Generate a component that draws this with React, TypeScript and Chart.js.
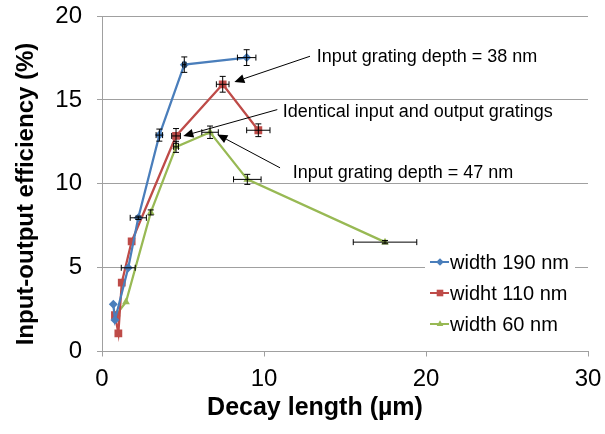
import React, { useEffect, useRef } from 'react';
import { Chart, registerables } from 'chart.js';

Chart.register(...registerables);

// ---- data ----
const seriesNames = ['width 190 nm', 'widht 110 nm', 'width 60 nm'];
const seriesColors = ['#4A7EBB', '#BE4B48', '#98B954'];

const x190 = [0.7, 0.8, 1.62, 2.24, 3.54, 5.08, 8.93];
const y190 = [2.81, 1.88, 4.99, 7.97, 12.9, 17.1, 17.52];
const xErr190 = [0, 0, 0.43, 0.5, 0.2, 0.1, 0.57];
const yErr190 = [0, 0, 0, 0.1, 0.36, 0.46, 0.47];

const x110 = [0.8, 1.01, 1.22, 1.83, 4.57, 7.45, 9.65];
const y110 = [2.17, 1.08, 4.1, 6.56, 12.85, 15.93, 13.19];
const xErr110 = [0, 0, 0, 0, 0.27, 0.39, 0.72];
const yErr110 = [0, 0, 0, 0, 0.44, 0.47, 0.38];

const x60 = [0.91, 1.48, 3.01, 4.57, 6.67, 8.97, 17.47];
const y60 = [2.23, 2.95, 8.29, 12.2, 13.07, 10.26, 6.52];
const xErr60 = [0, 0, 0, 0.15, 0.51, 0.85, 1.96];
const yErr60 = [0, 0, 0.15, 0.33, 0.37, 0.3, 0.1];

const xTicks = [0, 10, 20, 30];
const yTicks = [0, 5, 10, 15, 20];

const xTitle = 'Decay length (µm)';
const yTitle = 'Input-output efficiency (%)';

// callouts: text anchor (left/baseline) and arrow, in data units
const noteTexts = [
  'Input grating depth = 38 nm',
  'Identical input and output gratings',
  'Input grating depth = 47 nm',
];
const noteTextX = [13.25, 11.15, 11.77];
const noteTextY = [17.26, 13.98, 10.35];
const arrowFromX = [12.84, 10.82, 10.99];
const arrowFromY = [17.6, 14.42, 10.95];
const arrowToX = [8.17, 5.02, 7.12];
const arrowToY = [16.07, 12.85, 12.94];

const FONT = "'Liberation Sans', Arial, Helvetica, sans-serif";
const GRID = '#a0a0a0';

const toPoints = (xs: number[], ys: number[]) => xs.map((x, i) => ({ x, y: ys[i] }));

// ---- plugins ----
const errorBarPlugin = {
  id: 'errorBars',
  afterDatasetsDraw(chart: any) {
    const ctx = chart.ctx;
    const xs = chart.scales.x;
    const ys = chart.scales.y;
    const cap = 3;
    ctx.save();
    ctx.strokeStyle = '#000';
    ctx.lineWidth = 1;
    chart.data.datasets.forEach((ds: any, di: number) => {
      const meta = chart.getDatasetMeta(di);
      ds.data.forEach((p: any, i: number) => {
        const el = meta.data[i];
        const px = el.x;
        const py = el.y;
        const ex = ds.xErr[i];
        const ey = ds.yErr[i];
        ctx.beginPath();
        if (ex > 0) {
          const l = xs.getPixelForValue(p.x - ex);
          const r = xs.getPixelForValue(p.x + ex);
          ctx.moveTo(l, py); ctx.lineTo(r, py);
          ctx.moveTo(l, py - cap); ctx.lineTo(l, py + cap);
          ctx.moveTo(r, py - cap); ctx.lineTo(r, py + cap);
        }
        if (ey > 0) {
          const t = ys.getPixelForValue(p.y + ey);
          const b = ys.getPixelForValue(p.y - ey);
          ctx.moveTo(px, t); ctx.lineTo(px, b);
          ctx.moveTo(px - cap, t); ctx.lineTo(px + cap, t);
          ctx.moveTo(px - cap, b); ctx.lineTo(px + cap, b);
        }
        ctx.stroke();
      });
    });
    ctx.restore();
  },
};

const notesPlugin = {
  id: 'notes',
  afterDraw(chart: any) {
    const ctx = chart.ctx;
    const xs = chart.scales.x;
    const ys = chart.scales.y;
    ctx.save();
    ctx.fillStyle = '#000';
    ctx.strokeStyle = '#000';
    ctx.lineWidth = 1;
    ctx.font = `18px ${FONT}`;
    ctx.textAlign = 'left';
    ctx.textBaseline = 'alphabetic';
    noteTexts.forEach((t, i) => {
      ctx.fillText(t, xs.getPixelForValue(noteTextX[i]), ys.getPixelForValue(noteTextY[i]));
      const x0 = xs.getPixelForValue(arrowFromX[i]);
      const y0 = ys.getPixelForValue(arrowFromY[i]);
      const x1 = xs.getPixelForValue(arrowToX[i]);
      const y1 = ys.getPixelForValue(arrowToY[i]);
      const ang = Math.atan2(y1 - y0, x1 - x0);
      const headLen = 10;
      const headW = 4.5;
      const bx = x1 - Math.cos(ang) * headLen;
      const by = y1 - Math.sin(ang) * headLen;
      ctx.beginPath();
      ctx.moveTo(x0, y0);
      ctx.lineTo(bx, by);
      ctx.stroke();
      ctx.beginPath();
      ctx.moveTo(x1, y1);
      ctx.lineTo(bx + Math.sin(ang) * headW, by - Math.cos(ang) * headW);
      ctx.lineTo(bx - Math.sin(ang) * headW, by + Math.cos(ang) * headW);
      ctx.closePath();
      ctx.fill();
    });
    ctx.restore();
  },
};

function drawMarker(ctx: CanvasRenderingContext2D, style: string, x: number, y: number, r: number) {
  ctx.beginPath();
  if (style === 'rectRot') {
    ctx.moveTo(x, y - r); ctx.lineTo(x + r, y); ctx.lineTo(x, y + r); ctx.lineTo(x - r, y);
  } else if (style === 'rect') {
    const s = Math.SQRT1_2 * r;
    ctx.rect(x - s, y - s, 2 * s, 2 * s);
  } else {
    ctx.moveTo(x, y - r);
    ctx.lineTo(x + r * Math.sin((2 * Math.PI) / 3), y - r * Math.cos((2 * Math.PI) / 3));
    ctx.lineTo(x + r * Math.sin((4 * Math.PI) / 3), y - r * Math.cos((4 * Math.PI) / 3));
  }
  ctx.closePath();
  ctx.fill();
}

const legendPlugin = {
  id: 'legendBox',
  afterDraw(chart: any) {
    const ctx = chart.ctx;
    const rows = [262, 293, 324];
    ctx.save();
    ctx.fillStyle = '#fff';
    ctx.fillRect(425, 248, 150, 92);
    ctx.font = `20px ${FONT}`;
    ctx.textAlign = 'left';
    ctx.textBaseline = 'middle';
    chart.data.datasets.forEach((ds: any, i: number) => {
      const y = rows[i];
      ctx.strokeStyle = ds.borderColor;
      ctx.fillStyle = ds.borderColor;
      ctx.lineWidth = 2;
      ctx.beginPath();
      ctx.moveTo(430, y);
      ctx.lineTo(449, y);
      ctx.stroke();
      drawMarker(ctx, ds.pointStyle, 440, y, ds.pointRadius * 0.85);
      ctx.fillStyle = '#000';
      ctx.fillText(ds.label, 450, y + 1);
    });
    ctx.restore();
  },
};

const titlesPlugin = {
  id: 'axisTitles',
  afterDraw(chart: any) {
    const ctx = chart.ctx;
    ctx.save();
    ctx.fillStyle = '#000';
    ctx.textAlign = 'center';
    ctx.textBaseline = 'alphabetic';
    ctx.font = `bold 25px ${FONT}`;
    ctx.fillText(xTitle, 315, 415);
    ctx.font = `bold 24px ${FONT}`;
    ctx.translate(33, 194);
    ctx.rotate(-Math.PI / 2);
    ctx.fillText(yTitle, 0, 0);
    ctx.restore();
  },
};

export default function App() {
  const ref = useRef<HTMLCanvasElement | null>(null);

  useEffect(() => {
    if (!ref.current) return;
    const makeSet = (i: number, xs: number[], ys: number[], xe: number[], ye: number[], style: string, r: number) => ({
      label: seriesNames[i],
      data: toPoints(xs, ys),
      xErr: xe,
      yErr: ye,
      borderColor: seriesColors[i],
      backgroundColor: seriesColors[i],
      pointBackgroundColor: seriesColors[i],
      pointBorderColor: seriesColors[i],
      pointStyle: style,
      pointRadius: r,
      pointBorderWidth: 0,
      borderWidth: 2.25,
      showLine: true,
      tension: 0,
    });

    const chart = new Chart(ref.current, {
      type: 'scatter',
      data: {
        datasets: [
          makeSet(0, x190, y190, xErr190, yErr190, 'rectRot', 4.5),
          makeSet(1, x110, y110, xErr110, yErr110, 'rect', 5.5),
          makeSet(2, x60, y60, xErr60, yErr60, 'triangle', 4.5),
        ] as any,
      },
      options: {
        animation: false,
        responsive: false,
        devicePixelRatio: 1,
        layout: { padding: { top: 16, right: 17, left: 0, bottom: 0 } },
        plugins: { legend: { display: false }, tooltip: { enabled: false } },
        scales: {
          x: {
            type: 'linear',
            min: xTicks[0],
            max: xTicks[xTicks.length - 1],
            afterFit: (s: any) => {
              s.height = 82.5;
              s.paddingLeft = 0;
              s.paddingRight = 0;
            },
            afterBuildTicks: (s: any) => { s.ticks = xTicks.map((v) => ({ value: v })); },
            ticks: { font: { family: FONT, size: 24 }, color: '#000', padding: 8, maxRotation: 0 },
            grid: { drawOnChartArea: false, tickLength: 5, color: GRID, lineWidth: 1 },
            border: { color: GRID, width: 1 },
          },
          y: {
            type: 'linear',
            min: yTicks[0],
            max: yTicks[yTicks.length - 1],
            afterFit: (s: any) => {
              s.width = 102;
              s.paddingTop = 0;
              s.paddingBottom = 0;
            },
            afterBuildTicks: (s: any) => { s.ticks = yTicks.map((v) => ({ value: v })); },
            ticks: { font: { family: FONT, size: 24 }, color: '#000', padding: 15 },
            grid: { tickLength: 5, color: GRID, lineWidth: 1 },
            border: { color: GRID, width: 1 },
          },
        },
      } as any,
      plugins: [errorBarPlugin, notesPlugin, legendPlugin, titlesPlugin],
    });
    return () => chart.destroy();
  }, []);

  return (
    <div style={{ position: 'absolute', left: 0, top: 0, width: 605, height: 434, background: '#fff' }}>
      <canvas ref={ref} width={605} height={434} />
    </div>
  );
}
